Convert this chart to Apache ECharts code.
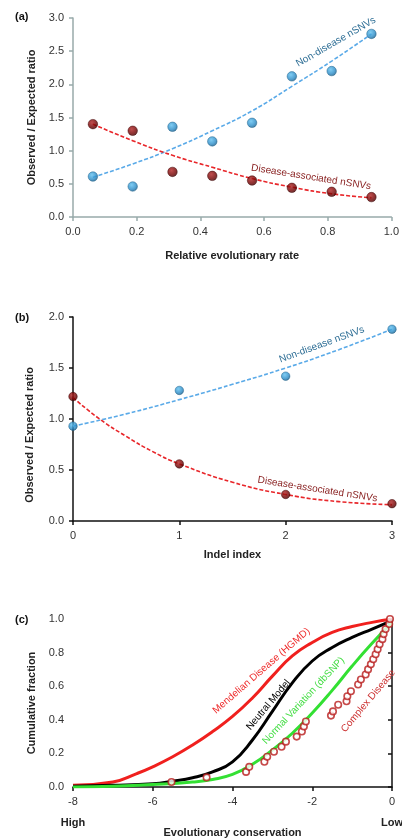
<!DOCTYPE html>
<html>
<head>
<meta charset="utf-8">
<style>
html,body{margin:0;padding:0;background:#fff;}
#c{width:402px;height:839px;}
</style>
<script src="https://cdn.jsdelivr.net/npm/echarts@6/dist/echarts.min.js"></script>
</head>
<body>
<div id="c"></div>
<script>
// ---------- Panel (a) ----------
const aX = [0.0625, 0.1875, 0.3125, 0.4375, 0.5625, 0.6875, 0.8125, 0.9375];
const aNonDisease = [0.61, 0.46, 1.36, 1.14, 1.42, 2.12, 2.20, 2.76];
const aDisease = [1.40, 1.30, 0.68, 0.62, 0.55, 0.44, 0.38, 0.30];
const aNonTrend = [0.60, 0.80, 1.03, 1.30, 1.60, 1.97, 2.35, 2.76];
const aDisTrend = [1.40, 1.15, 0.93, 0.75, 0.58, 0.45, 0.35, 0.29];

// ---------- Panel (b) ----------
const bX = [0, 1, 2, 3];
const bNonDisease = [0.93, 1.28, 1.42, 1.88];
const bDisease = [1.22, 0.56, 0.26, 0.17];
const bNonTrendX = [0, 0.5, 1, 1.5, 2, 2.5, 3];
const bNonTrend = [0.93, 1.05, 1.19, 1.34, 1.50, 1.68, 1.88];
const bDisTrendX = [0, 0.25, 0.5, 0.75, 1, 1.5, 2, 2.5, 3];
const bDisTrend = [1.21, 1.00, 0.83, 0.68, 0.56, 0.38, 0.26, 0.19, 0.16];

// ---------- Panel (c) ----------
const cMendX = [-8, -7, -6.4, -6, -5.5, -5, -4.5, -4, -3.5, -3, -2.5, -2, -1.5, -1, -0.5, 0];
const cMend = [0.01, 0.03, 0.08, 0.12, 0.18, 0.25, 0.33, 0.42, 0.53, 0.66, 0.78, 0.86, 0.92, 0.955, 0.98, 1.0];
const cNeutX = [-8, -7, -6, -5.5, -5, -4.5, -4, -3.5, -3, -2.5, -2, -1.5, -1, -0.5, 0];
const cNeut = [0.005, 0.01, 0.02, 0.035, 0.055, 0.09, 0.15, 0.28, 0.45, 0.62, 0.75, 0.83, 0.89, 0.94, 0.99];
const cNormX = [-8, -7, -6, -5, -4.5, -4, -3.5, -3, -2.5, -2, -1.5, -1, -0.5, 0];
const cNorm = [0.0, 0.005, 0.015, 0.03, 0.045, 0.075, 0.135, 0.22, 0.32, 0.44, 0.575, 0.72, 0.855, 0.98];
const cComplexX = [-5.53, -4.65, -3.66, -3.58, -3.20, -3.13, -2.96, -2.77, -2.66, -2.39, -2.26, -2.21, -2.16,
  -1.53, -1.48, -1.35, -1.14, -1.12, -1.03, -0.85, -0.78, -0.66, -0.60, -0.53, -0.47, -0.41, -0.36, -0.31,
  -0.24, -0.21, -0.16, -0.07, -0.05];
const cComplex = [0.03, 0.057, 0.09, 0.12, 0.15, 0.18, 0.21, 0.24, 0.27, 0.30, 0.33, 0.36, 0.39,
  0.425, 0.45, 0.49, 0.51, 0.54, 0.57, 0.61, 0.64, 0.67, 0.70, 0.73, 0.76, 0.79, 0.82, 0.85,
  0.88, 0.91, 0.94, 0.97, 1.0];

const FONT = '"Liberation Sans", Arial, sans-serif';
const zip = (xs, ys) => xs.map((x, i) => [x, ys[i]]);

const blueBall = {
  type: 'radial', x: 0.4, y: 0.35, r: 0.7,
  colorStops: [{offset: 0, color: '#5fc0f0'}, {offset: 0.6, color: '#2a8cc8'}, {offset: 1, color: '#15547c'}]
};
const redBall = {
  type: 'radial', x: 0.4, y: 0.35, r: 0.7,
  colorStops: [{offset: 0, color: '#b02020'}, {offset: 0.6, color: '#740000'}, {offset: 1, color: '#3a0000'}]
};

function mkX(grid, min, max, interval, name, gap, dec, color) {
  return {
    type: 'value', gridIndex: grid, min: min, max: max, interval: interval,
    name: name, nameLocation: 'middle', nameGap: gap,
    nameTextStyle: {fontFamily: FONT, fontWeight: 'bold', fontSize: 11, color: '#222'},
    axisLine: {show: true, onZero: false, lineStyle: {color: color, width: 1.5}},
    axisTick: {show: true, length: 4, lineStyle: {color: color, width: 1.5}},
    axisLabel: {margin: 9, fontFamily: FONT, fontSize: 11, color: '#333', formatter: v => v.toFixed(dec)},
    splitLine: {show: false}
  };
}
function mkY(grid, min, max, interval, name, gap, color) {
  return {
    type: 'value', gridIndex: grid, min: min, max: max, interval: interval,
    name: name, nameLocation: 'middle', nameGap: gap, nameRotate: 90,
    nameTextStyle: {fontFamily: FONT, fontWeight: 'bold', fontSize: 11, color: '#222'},
    axisLine: {show: true, lineStyle: {color: color, width: 1.5}},
    axisTick: {show: true, length: 4, lineStyle: {color: color, width: 1.5}},
    axisLabel: {margin: 9, fontFamily: FONT, fontSize: 11, color: '#333', formatter: v => v.toFixed(1)},
    splitLine: {show: false}
  };
}

const chart = echarts.init(document.getElementById('c'), null, {renderer: 'canvas'});
const option = {
  animation: false,
  backgroundColor: '#fff',
  grid: [
    {left: 73, right: 8, top: 18, height: 199},
    {left: 73, right: 10, top: 317, height: 204},
    {left: 73, right: 10, top: 619, height: 170}
  ],
  xAxis: [
    mkX(0, 0, 1, 0.2, 'Relative evolutionary rate', 33, 1, '#98aaaa'),
    mkX(1, 0, 3, 1, 'Indel index', 28, 0, '#111'),
    mkX(2, -8, 0, 2, 'Evolutionary conservation', 40, 0, '#111')
  ],
  yAxis: [
    mkY(0, 0, 3, 0.5, 'Observed / Expected ratio', 36, '#98aaaa'),
    mkY(1, 0, 2, 0.5, '', 36, '#111'),
    mkY(2, 0, 1, 0.2, 'Cumulative fraction', 36, '#111')
  ],
  series: [
    // (a)
    {type: 'line', xAxisIndex: 0, yAxisIndex: 0, data: zip(aX, aNonTrend), smooth: true, symbol: 'none',
      lineStyle: {color: '#5aaae8', width: 1.6, type: [4, 2]}, z: 2},
    {type: 'line', xAxisIndex: 0, yAxisIndex: 0, data: zip(aX, aDisTrend), smooth: true, symbol: 'none',
      lineStyle: {color: '#e8262a', width: 1.6, type: [4, 2]}, z: 2},
    {type: 'scatter', xAxisIndex: 0, yAxisIndex: 0, data: zip(aX, aNonDisease), symbolSize: 9.5,
      itemStyle: {color: blueBall, borderColor: '#1c5f88', borderWidth: 0.6}, z: 5},
    {type: 'scatter', xAxisIndex: 0, yAxisIndex: 0, data: zip(aX, aDisease), symbolSize: 9.5,
      itemStyle: {color: redBall, borderColor: '#3a0000', borderWidth: 0.6}, z: 5},
    // (b)
    {type: 'line', xAxisIndex: 1, yAxisIndex: 1, data: zip(bNonTrendX, bNonTrend), smooth: true, symbol: 'none',
      lineStyle: {color: '#5aaae8', width: 1.6, type: [4, 2]}, z: 2},
    {type: 'line', xAxisIndex: 1, yAxisIndex: 1, data: zip(bDisTrendX, bDisTrend), smooth: true, symbol: 'none',
      lineStyle: {color: '#e8262a', width: 1.6, type: [4, 2]}, z: 2},
    {type: 'scatter', xAxisIndex: 1, yAxisIndex: 1, data: zip(bX, bNonDisease), symbolSize: 8.5,
      itemStyle: {color: blueBall, borderColor: '#1c5f88', borderWidth: 0.6}, z: 5},
    {type: 'scatter', xAxisIndex: 1, yAxisIndex: 1, data: zip(bX, bDisease), symbolSize: 8.5,
      itemStyle: {color: redBall, borderColor: '#3a0000', borderWidth: 0.6}, z: 5},
    // (c)
    {type: 'line', xAxisIndex: 2, yAxisIndex: 2, data: zip(cMendX, cMend), smooth: true, symbol: 'none',
      lineStyle: {color: '#f0201e', width: 3}, z: 3},
    {type: 'line', xAxisIndex: 2, yAxisIndex: 2, data: zip(cNeutX, cNeut), smooth: true, symbol: 'none',
      lineStyle: {color: '#000', width: 3}, z: 3},
    {type: 'line', xAxisIndex: 2, yAxisIndex: 2, data: zip(cNormX, cNorm), smooth: true, symbol: 'none',
      lineStyle: {color: '#33e033', width: 3}, z: 3},
    {type: 'scatter', xAxisIndex: 2, yAxisIndex: 2, data: zip(cComplexX, cComplex), symbol: 'circle', symbolSize: 6.5,
      itemStyle: {color: '#fff', borderColor: '#b81c1c', borderWidth: 1.6}, z: 6}
  ]
};
chart.setOption(option);

// Annotations anchored in data coordinates, with a small perpendicular offset (px) from the curve
const notes = [
  {g: 0, x: 0.826, y: 2.64, rot: 30, d: 0, text: 'Non-disease nSNVs', color: '#2f6f96'},
  {g: 0, x: 0.748, y: 0.60, rot: -9, d: 0, text: 'Disease-associated nSNVs', color: '#8b2424'},
  {g: 1, x: 2.34, y: 1.73, rot: 20, d: 0, text: 'Non-disease nSNVs', color: '#2f6f96'},
  {g: 1, x: 2.30, y: 0.31, rot: -9, d: 0, text: 'Disease-associated nSNVs', color: '#8b2424'},
  {g: 2, x: -3.16, y: 0.66, rot: 41, d: 7, text: 'Mendelian Disease (HGMD)', color: '#ee2a2a'},
  {g: 2, x: -2.91, y: 0.45, rot: 50, d: 10, text: 'Neutral Model', color: '#000'},
  {g: 2, x: -2.11, y: 0.49, rot: 47, d: 6, text: 'Normal Variation (dbSNP)', color: '#44dd44'},
  {g: 2, x: -0.71, y: 0.535, rot: 50, d: -6, text: 'Complex Disease', color: '#cc3030'}
];
const graphics = notes.map(n => {
  const p = chart.convertToPixel({gridIndex: n.g}, [n.x, n.y]);
  const t = n.rot * Math.PI / 180;
  return {
    type: 'text', x: p[0] - n.d * Math.sin(t), y: p[1] - n.d * Math.cos(t), rotation: t, z: 10,
    style: {text: n.text, fill: n.color, font: '10px ' + FONT, textAlign: 'center', textVerticalAlign: 'middle'}
  };
});
const bold = '700 11px ' + FONT;
graphics.push(
  {type: 'text', x: 15, y: 17, style: {text: '(a)', font: bold, fill: '#111', textVerticalAlign: 'middle'}},
  {type: 'text', x: 15, y: 318, style: {text: '(b)', font: bold, fill: '#111', textVerticalAlign: 'middle'}},
  {type: 'text', x: 15, y: 620, style: {text: '(c)', font: bold, fill: '#111', textVerticalAlign: 'middle'}},
  {type: 'text', x: 30, y: 435, rotation: Math.PI / 2,
    style: {text: 'Observed / Expected ratio', font: bold, fill: '#222', textAlign: 'center', textVerticalAlign: 'middle'}},
  {type: 'text', x: 73, y: 823, style: {text: 'High', font: bold, fill: '#222', textAlign: 'center', textVerticalAlign: 'middle'}},
  {type: 'text', x: 392, y: 823, style: {text: 'Low', font: bold, fill: '#222', textAlign: 'center', textVerticalAlign: 'middle'}}
);
chart.setOption({graphic: graphics});
</script>
</body>
</html>
